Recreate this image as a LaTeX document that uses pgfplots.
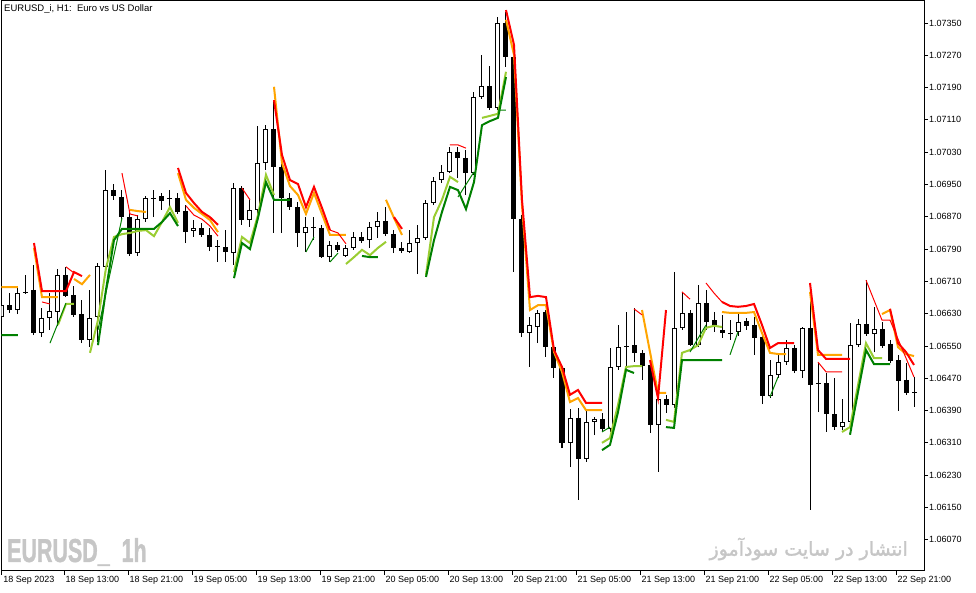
\documentclass[border=0pt]{standalone}
\usepackage{fontspec}
\setmainfont{Liberation Sans}
\newfontfamily\arabicfont[Script=Arabic, FakeBold=1.6]{DejaVu Sans}
\newfontfamily\wmfont[BoldFeatures={FakeBold=1.4}]{Liberation Sans}
\usepackage{pgfplots}
\usepackage{pgfplotstable}
\pgfplotsset{compat=1.18}
\TeXXeTstate=1
\definecolor{mtred}{RGB}{255,0,0}
\definecolor{mtorange}{RGB}{255,165,0}
\definecolor{mtlg}{RGB}{154,205,50}
\definecolor{mtdg}{RGB}{0,128,0}
\definecolor{wmgray}{RGB}{198,198,198}

% candles: index, open, high, low, close, type (1 = bullish/white)
\pgfplotstableread{
i o h l c t
0 1.06622 1.06664 1.06614 1.06651 1
1 1.06651 1.06681 1.06632 1.06639 0
2 1.06639 1.06694 1.06629 1.06681 1
3 1.06684 1.06726 1.06679 1.06681 0
4 1.06689 1.06751 1.06577 1.06582 0
5 1.06582 1.06644 1.06572 1.06619 1
6 1.06619 1.06681 1.06590 1.06637 1
7 1.06634 1.06741 1.06599 1.06726 1
8 1.06726 1.06746 1.06671 1.06674 0
9 1.06676 1.06699 1.06622 1.06627 0
10 1.06629 1.06664 1.06557 1.06565 0
11 1.06565 1.06689 1.06547 1.06619 1
12 1.06622 1.06755 1.06560 1.06748 1
13 1.06746 1.06986 1.06738 1.06936 1
14 1.06936 1.06951 1.06912 1.06921 0
15 1.06919 1.06936 1.06862 1.06869 0
16 1.06869 1.06882 1.06773 1.06778 0
17 1.06780 1.06874 1.06773 1.06864 1
18 1.06864 1.06921 1.06857 1.06917 1
19 1.06917 1.06936 1.06869 1.06914 0
20 1.06921 1.06929 1.06887 1.06909 0
21 1.06914 1.06936 1.06894 1.06917 0
22 1.06917 1.06929 1.06877 1.06882 0
23 1.06884 1.06899 1.06805 1.06832 0
24 1.06835 1.06862 1.06820 1.06842 1
25 1.06842 1.06855 1.06820 1.06825 0
26 1.06825 1.06842 1.06785 1.06795 0
27 1.06798 1.06812 1.06758 1.06795 0
28 1.06795 1.06837 1.06758 1.06783 0
29 1.06780 1.06954 1.06751 1.06941 1
30 1.06941 1.06946 1.06850 1.06862 0
31 1.06862 1.06912 1.06845 1.06887 1
32 1.06887 1.07095 1.06874 1.07003 1
33 1.07003 1.07097 1.06986 1.07087 1
34 1.07087 1.07159 1.06830 1.06993 0
35 1.06993 1.07011 1.06830 1.06917 0
36 1.06917 1.06929 1.06887 1.06894 0
37 1.06894 1.06907 1.06795 1.06830 0
38 1.06830 1.06869 1.06783 1.06845 1
39 1.06845 1.06869 1.06813 1.06842 0
40 1.06842 1.06850 1.06768 1.06770 0
41 1.06770 1.06810 1.06758 1.06800 1
42 1.06800 1.06808 1.06783 1.06788 0
43 1.06773 1.06800 1.06770 1.06793 1
44 1.06793 1.06832 1.06788 1.06820 1
45 1.06820 1.06832 1.06805 1.06810 0
46 1.06812 1.06857 1.06793 1.06845 1
47 1.06845 1.06882 1.06818 1.06860 1
48 1.06860 1.06894 1.06822 1.06827 0
49 1.06827 1.06837 1.06780 1.06793 0
50 1.06793 1.06808 1.06780 1.06785 0
51 1.06783 1.06837 1.06780 1.06805 1
52 1.06805 1.06850 1.06728 1.06818 1
53 1.06818 1.06912 1.06813 1.06904 1
54 1.06904 1.06969 1.06899 1.06959 1
55 1.06961 1.06998 1.06954 1.06981 1
56 1.06981 1.07043 1.06978 1.07030 1
57 1.07030 1.07043 1.06966 1.07016 0
58 1.07016 1.07035 1.06924 1.06978 0
59 1.06978 1.07179 1.06973 1.07167 1
60 1.07167 1.07271 1.07162 1.07194 1
61 1.07194 1.07243 1.07134 1.07139 0
62 1.07139 1.07365 1.07134 1.07350 1
63 1.07350 1.07377 1.07241 1.07266 0
64 1.07266 1.07278 1.06733 1.06864 0
65 1.06864 1.06874 1.06572 1.06582 0
66 1.06582 1.06622 1.06498 1.06602 1
67 1.06597 1.06639 1.06557 1.06632 1
68 1.06634 1.06639 1.06523 1.06547 0
69 1.06547 1.06552 1.06471 1.06495 0
70 1.06495 1.06500 1.06297 1.06310 0
71 1.06310 1.06394 1.06250 1.06372 1
72 1.06372 1.06396 1.06169 1.06270 0
73 1.06270 1.06391 1.06263 1.06362 1
74 1.06362 1.06374 1.06329 1.06369 1
75 1.06369 1.06384 1.06337 1.06344 0
76 1.06344 1.06545 1.06337 1.06498 1
77 1.06498 1.06602 1.06491 1.06547 1
78 1.06547 1.06634 1.06491 1.06550 0
79 1.06552 1.06644 1.06510 1.06533 0
80 1.06533 1.06540 1.06466 1.06500 0
81 1.06503 1.06510 1.06335 1.06354 0
82 1.06354 1.06434 1.06238 1.06419 1
83 1.06419 1.06429 1.06384 1.06404 0
84 1.06404 1.06733 1.06396 1.06594 1
85 1.06594 1.06684 1.06590 1.06632 1
86 1.06632 1.06639 1.06550 1.06552 0
87 1.06552 1.06701 1.06547 1.06656 1
88 1.06656 1.06689 1.06590 1.06609 0
89 1.06614 1.06634 1.06585 1.06600 0
90 1.06590 1.06627 1.06570 1.06582 0
91 1.06582 1.06614 1.06565 1.06580 0
92 1.06585 1.06632 1.06575 1.06609 1
93 1.06612 1.06619 1.06590 1.06600 0
94 1.06602 1.06622 1.06528 1.06570 0
95 1.06572 1.06580 1.06406 1.06426 0
96 1.06426 1.06515 1.06421 1.06478 1
97 1.06478 1.06528 1.06471 1.06510 1
98 1.06510 1.06565 1.06503 1.06545 1
99 1.06545 1.06552 1.06483 1.06488 0
100 1.06488 1.06597 1.06471 1.06594 1
101 1.06594 1.06669 1.06144 1.06453 0
102 1.06456 1.06508 1.06386 1.06458 0
103 1.06458 1.06483 1.06337 1.06381 0
104 1.06381 1.06471 1.06342 1.06349 0
105 1.06349 1.06419 1.06342 1.06362 1
106 1.06362 1.06607 1.06357 1.06552 1
107 1.06552 1.06617 1.06547 1.06605 1
108 1.06605 1.06713 1.06575 1.06580 0
109 1.06580 1.06647 1.06535 1.06592 1
110 1.06592 1.06609 1.06545 1.06550 0
111 1.06555 1.06565 1.06508 1.06513 0
112 1.06515 1.06528 1.06389 1.06463 0
113 1.06466 1.06508 1.06429 1.06434 0
114 1.06435 1.06473 1.06399 1.06433 0
}\candles

\pgfplotstableread{
x y
4 1.06805
5 1.06686
6 1.06686
7 1.06686
8 1.06686
9 1.06733
10 1.06723
nan nan
22 1.06991
23 1.06929
24 1.06904
25 1.06882
26 1.06869
27 1.06850
nan nan
34 1.07159
35 1.07023
36 1.06961
37 1.06951
38 1.06894
39 1.06944
40 1.06892
41 1.06837
nan nan
49 1.06869
50 1.06840
nan nan
63 1.07382
64 1.07296
65 1.06912
66 1.06671
67 1.06674
68 1.06671
69 1.06540
70 1.06498
71 1.06429
72 1.06441
73 1.06409
74 1.06409
75 1.06409
nan nan
81 1.06515
82 1.06421
83 1.06639
nan nan
90 1.06659
91 1.06649
92 1.06647
93 1.06649
94 1.06654
95 1.06602
96 1.06545
97 1.06557
98 1.06557
99 1.06557
nan nan
101 1.06706
102 1.06540
103 1.06518
104 1.06518
105 1.06518
106 1.06518
nan nan
111 1.06642
112 1.06557
113 1.06535
114 1.06503
}\redthick

\pgfplotstableread{
x y
5 1.06659
6 1.06654
nan nan
8 1.06746
9 1.06731
nan nan
15 1.06978
16 1.06877
17 1.06872
nan nan
23 1.06897
24 1.06874
25 1.06864
26 1.06847
27 1.06822
nan nan
30 1.06941
31 1.06912
nan nan
41 1.06837
42 1.06830
43 1.06803
nan nan
56 1.07048
57 1.07048
58 1.07040
nan nan
79 1.06642
80 1.06627
nan nan
85 1.06684
86 1.06666
nan nan
88 1.06706
89 1.06681
90 1.06659
nan nan
102 1.06510
103 1.06486
104 1.06486
105 1.06486
nan nan
108 1.06713
110 1.06614
111 1.06614
114 1.06473
}\redthin

\pgfplotstableread{
x y
-0.25 1.06696
2 1.06696
nan nan
4 1.06793
5 1.06671
6 1.06671
7 1.06671
nan nan
9 1.06716
10 1.06703
11 1.06726
nan nan
16 1.06887
17 1.06884
18 1.06882
nan nan
22 1.06978
23 1.06912
24 1.06892
25 1.06877
26 1.06862
27 1.06832
nan nan
34 1.07192
35 1.07003
36 1.06946
37 1.06924
38 1.06877
39 1.06929
40 1.06877
41 1.06825
42 1.06825
43 1.06825
nan nan
48 1.06912
49 1.06867
50 1.06825
nan nan
63 1.07358
64 1.07271
65 1.06899
66 1.06639
67 1.06651
68 1.06651
69 1.06535
70 1.06486
71 1.06411
72 1.06421
73 1.06391
74 1.06391
75 1.06391
nan nan
80 1.06639
81 1.06535
82 1.06434
83 1.06434
nan nan
90 1.06634
91 1.06632
92 1.06632
93 1.06632
94 1.06634
95 1.06582
96 1.06533
97 1.06530
98 1.06530
nan nan
101 1.06684
102 1.06528
103 1.06528
104 1.06528
105 1.06528
nan nan
110 1.06629
111 1.06639
112 1.06547
113 1.06530
114 1.06525
}\orangethick

\pgfplotstableread{
x y
7 1.06602
8 1.06654
9 1.06654
nan nan
11 1.06533
12 1.06614
13 1.06743
14 1.06820
15 1.06827
16 1.06830
17 1.06835
18 1.06837
19 1.06822
20 1.06857
21 1.06894
22 1.06855
nan nan
29 1.06733
30 1.06820
31 1.06805
32 1.06874
33 1.06974
34 1.06924
nan nan
43 1.06753
44 1.06770
45 1.06788
46 1.06775
47 1.06793
48 1.06808
nan nan
53 1.06726
54 1.06869
55 1.06912
56 1.06969
57 1.06956
nan nan
60 1.07115
61 1.07120
62 1.07125
63 1.07229
nan nan
75 1.06310
76 1.06322
77 1.06404
78 1.06498
79 1.06500
80 1.06500
nan nan
83 1.06367
84 1.06362
85 1.06533
86 1.06540
87 1.06552
88 1.06595
89 1.06600
90 1.06597
nan nan
105 1.06337
106 1.06349
107 1.06453
108 1.06557
109 1.06520
110 1.06520
}\lgthick

\pgfplotstableread{
x y
-0.25 1.06577
2 1.06577
nan nan
12 1.06552
13 1.06689
14 1.06812
15 1.06840
16 1.06840
17 1.06840
18 1.06840
19 1.06840
20 1.06857
21 1.06879
22 1.06847
nan nan
29 1.06718
30 1.06805
31 1.06790
32 1.06867
33 1.06956
34 1.06912
35 1.06912
36 1.06912
nan nan
45 1.06773
46 1.06770
47 1.06770
nan nan
53 1.06721
54 1.06812
55 1.06882
56 1.06944
57 1.06936
58 1.06889
59 1.06956
60 1.07097
61 1.07107
62 1.07115
63 1.07216
nan nan
75 1.06292
76 1.06305
77 1.06386
78 1.06491
79 1.06483
nan nan
83 1.06349
84 1.06347
85 1.06515
86 1.06515
87 1.06515
88 1.06515
89 1.06515
90 1.06515
nan nan
106 1.06330
107 1.06436
108 1.06540
109 1.06505
110 1.06505
111 1.06505
}\dgthick

\pgfplotstableread{
x y
6 1.06557
8 1.06656
nan nan
12 1.06590
15 1.06867
nan nan
38 1.06783
39 1.06820
nan nan
41 1.06758
42 1.06780
nan nan
57 1.06919
59 1.06981
nan nan
62 1.07134
63 1.07134
nan nan
75 1.06337
76 1.06349
nan nan
86 1.06535
88 1.06602
nan nan
91 1.06528
92 1.06585
nan nan
96 1.06424
97 1.06473
}\dgthin

\begin{document}
\begin{tikzpicture}
\path[use as bounding box, fill=white] (0pt,0pt) rectangle (976pt,593pt);
\begin{axis}[
  at={(1.5pt,22pt)}, anchor=south west,
  scale only axis, width=922.5pt, height=570pt,
  xmin=-0.06, xmax=115.25,
  ymin=1.059926, ymax=1.074045,
  axis line style={black, line width=1pt},
  tick align=outside, major tick length=4pt,
  tick style={black, line width=0.8pt},
  xtick pos=left, ytick pos=right, yticklabel pos=right,
  scaled y ticks=false,
  /pgf/number format/assume math mode=true,
  ytick={1.0607,1.0615,1.0623,1.0631,1.0639,1.0647,1.0655,1.0663,1.0671,1.0679,1.0687,1.0695,1.0703,1.0711,1.0719,1.0727,1.0735},
  yticklabel style={/pgf/number format/fixed, /pgf/number format/fixed zerofill, /pgf/number format/precision=5,
    anchor=west, inner sep=0pt, xshift=1pt, font=\fontsize{9}{10}\selectfont},
  xtick={-0.05,7.75,15.75,23.75,31.75,39.75,47.75,55.75,63.75,71.75,79.75,87.75,95.75,103.75,111.75},
  xticklabels={18 Sep 2023,18 Sep 13:00,18 Sep 21:00,19 Sep 05:00,19 Sep 13:00,19 Sep 21:00,20 Sep 05:00,20 Sep 13:00,20 Sep 21:00,21 Sep 05:00,21 Sep 13:00,21 Sep 21:00,22 Sep 05:00,22 Sep 13:00,22 Sep 21:00},
  xticklabel style={anchor=north west, inner sep=0pt, xshift=1.5pt, yshift=-1pt, font=\fontsize{9}{10}\selectfont},
  unbounded coords=jump,
  wick/.style={black, line width=1pt, forget plot},
  bodyblack/.style={black, line width=5pt, forget plot},
  bodyin/.style={white, line width=3pt, shorten <=1pt, shorten >=1pt, forget plot},
]
\pgfplotstablegetrowsof{\candles}
\pgfmathtruncatemacro{\lastrow}{\pgfplotsretval-1}
\pgfplotsforeachungrouped \r in {0,...,\lastrow}{%
  \pgfplotstablegetelem{\r}{i}\of{\candles}\let\ci\pgfplotsretval
  \pgfplotstablegetelem{\r}{o}\of{\candles}\let\co\pgfplotsretval
  \pgfplotstablegetelem{\r}{h}\of{\candles}\let\ch\pgfplotsretval
  \pgfplotstablegetelem{\r}{l}\of{\candles}\let\cl\pgfplotsretval
  \pgfplotstablegetelem{\r}{c}\of{\candles}\let\cc\pgfplotsretval
  \pgfplotstablegetelem{\r}{t}\of{\candles}\let\ct\pgfplotsretval
  \edef\temp{\noexpand\addplot[wick] coordinates {(\ci,\cl) (\ci,\ch)};
    \noexpand\addplot[bodyblack] coordinates {(\ci,\co) (\ci,\cc)};}\temp
  \ifnum\ct=1
    \edef\temp{\noexpand\addplot[bodyin] coordinates {(\ci,\co) (\ci,\cc)};}\temp
  \fi
}
\addplot[mtlg, line width=2pt, forget plot] table[x=x,y=y] {\lgthick};
\addplot[mtdg, line width=2pt, forget plot] table[x=x,y=y] {\dgthick};
\addplot[mtdg, line width=1pt, forget plot] table[x=x,y=y] {\dgthin};
\addplot[mtorange, line width=2pt, forget plot] table[x=x,y=y] {\orangethick};
\addplot[mtred, line width=1pt, forget plot] table[x=x,y=y] {\redthin};
\addplot[mtred, line width=2pt, forget plot] table[x=x,y=y] {\redthick};
\end{axis}
\node[anchor=west, inner sep=0pt, font=\fontsize{9.5}{11}\selectfont] at (4pt,584pt) {EURUSD\_i, H1:\ \ Euro vs US Dollar};
\node[anchor=west, inner sep=0pt, text=wmgray] at (7pt,41pt) {\scalebox{0.65}[1]{\wmfont\fontsize{33}{33}\selectfont\bfseries EURUSD\_\ \ 1h}};
\node[anchor=east, inner sep=0pt, text=wmgray] at (908pt,44pt) {\arabicfont\fontsize{19}{22}\selectfont\beginR انتشار در سایت سودآموز\endR};
\end{tikzpicture}
\end{document}
